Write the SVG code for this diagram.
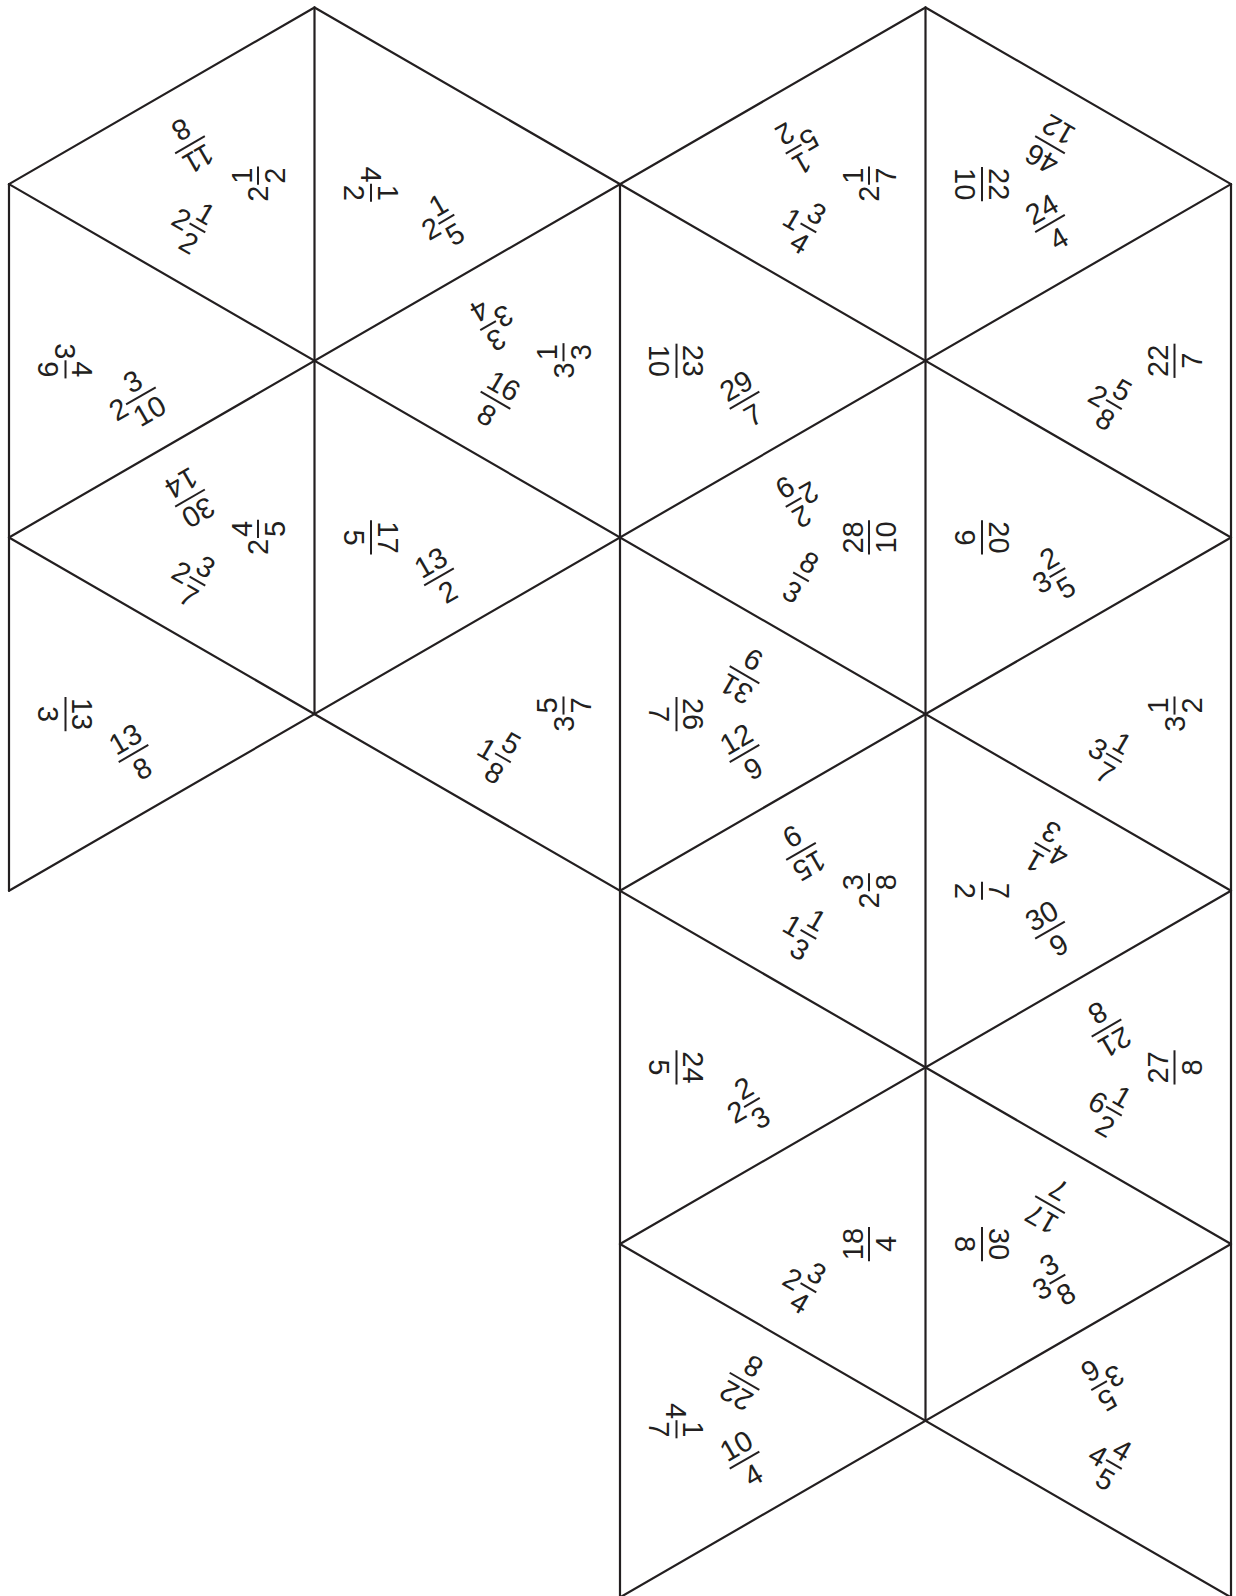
<svg xmlns="http://www.w3.org/2000/svg" width="1236" height="1596" viewBox="0 0 1236 1596">
<style>
.e{fill:none;stroke:#231f20;stroke-width:2.2;stroke-linecap:round}
.n{font-family:"Liberation Sans",Arial,Helvetica,sans-serif;font-size:29px;text-anchor:middle;fill:#231f20}
.b{stroke:#231f20;stroke-width:2}
</style>
<rect width="1236" height="1596" fill="#ffffff"/>
<g id="edges" class="e">
<line x1="9" y1="184.15" x2="9" y2="890.75"/>
<line x1="314.5" y1="7.5" x2="314.5" y2="714.1"/>
<line x1="620" y1="184.15" x2="620" y2="1597.35"/>
<line x1="925.5" y1="7.5" x2="925.5" y2="1420.7"/>
<line x1="1231" y1="184.15" x2="1231" y2="1597.35"/>
<line x1="314.5" y1="7.5" x2="1231" y2="537.45"/>
<line x1="925.5" y1="7.5" x2="1231" y2="184.15"/>
<line x1="9" y1="184.15" x2="1231" y2="890.75"/>
<line x1="9" y1="537.45" x2="1231" y2="1244.05"/>
<line x1="620" y1="1244.05" x2="1231" y2="1597.35"/>
<line x1="9" y1="184.15" x2="314.5" y2="7.5"/>
<line x1="9" y1="537.45" x2="925.5" y2="7.5"/>
<line x1="9" y1="890.75" x2="1231" y2="184.15"/>
<line x1="620" y1="890.75" x2="1231" y2="537.45"/>
<line x1="620" y1="1244.05" x2="1231" y2="890.75"/>
<line x1="620" y1="1597.35" x2="1231" y2="1244.05"/>
</g>
<g id="t1">
<g transform="translate(190 144.76) rotate(150)"><text class="n" y="-6.5">11</text><line class="b" x1="-17.12" x2="17.12"/><text class="n" y="27.3">8</text></g>
<g transform="translate(258 184.15) rotate(-90)"><text class="n" x="-9.56" y="10.4">2</text><text class="n" x="8.56" y="-6.5">1</text><line class="b" x1="-0.5" x2="17.62"/><text class="n" x="8.56" y="27.3">2</text></g>
<g transform="translate(190 223.55) rotate(30)"><text class="n" x="-9.56" y="10.4">2</text><text class="n" x="8.56" y="-6.5">1</text><line class="b" x1="-0.5" x2="17.62"/><text class="n" x="8.56" y="27.3">2</text></g>
</g>
<g id="t2">
<g transform="translate(65.5 360.8) rotate(90)"><text class="n" x="-9.56" y="10.4">3</text><text class="n" x="8.56" y="-6.5">4</text><line class="b" x1="-0.5" x2="17.62"/><text class="n" x="8.56" y="27.3">9</text></g>
<g transform="translate(133.5 400.2) rotate(-30)"><text class="n" x="-17.62" y="10.4">2</text><text class="n" x="8.56" y="-6.5">3</text><line class="b" x1="-8.56" x2="25.68"/><text class="n" x="8.56" y="27.3">10</text></g>
</g>
<g id="t3">
<g transform="translate(190 498.06) rotate(150)"><text class="n" y="-6.5">30</text><line class="b" x1="-17.12" x2="17.12"/><text class="n" y="27.3">14</text></g>
<g transform="translate(258 537.45) rotate(-90)"><text class="n" x="-9.56" y="10.4">2</text><text class="n" x="8.56" y="-6.5">4</text><line class="b" x1="-0.5" x2="17.62"/><text class="n" x="8.56" y="27.3">5</text></g>
<g transform="translate(190 576.85) rotate(30)"><text class="n" x="-9.56" y="10.4">2</text><text class="n" x="8.56" y="-6.5">3</text><line class="b" x1="-0.5" x2="17.62"/><text class="n" x="8.56" y="27.3">7</text></g>
</g>
<g id="t4">
<g transform="translate(65.5 714.1) rotate(90)"><text class="n" y="-6.5">13</text><line class="b" x1="-17.12" x2="17.12"/><text class="n" y="27.3">3</text></g>
<g transform="translate(133.5 753.5) rotate(-30)"><text class="n" y="-6.5">13</text><line class="b" x1="-17.12" x2="17.12"/><text class="n" y="27.3">8</text></g>
</g>
<g id="t5">
<g transform="translate(371 184.15) rotate(90)"><text class="n" x="-9.56" y="10.4">4</text><text class="n" x="8.56" y="-6.5">1</text><line class="b" x1="-0.5" x2="17.62"/><text class="n" x="8.56" y="27.3">2</text></g>
<g transform="translate(439 223.55) rotate(-30)"><text class="n" x="-9.56" y="10.4">2</text><text class="n" x="8.56" y="-6.5">1</text><line class="b" x1="-0.5" x2="17.62"/><text class="n" x="8.56" y="27.3">5</text></g>
</g>
<g id="t6">
<g transform="translate(495.5 321.41) rotate(150)"><text class="n" x="-9.56" y="10.4">3</text><text class="n" x="8.56" y="-6.5">3</text><line class="b" x1="-0.5" x2="17.62"/><text class="n" x="8.56" y="27.3">4</text></g>
<g transform="translate(563.5 360.8) rotate(-90)"><text class="n" x="-9.56" y="10.4">3</text><text class="n" x="8.56" y="-6.5">1</text><line class="b" x1="-0.5" x2="17.62"/><text class="n" x="8.56" y="27.3">3</text></g>
<g transform="translate(495.5 400.2) rotate(30)"><text class="n" y="-6.5">16</text><line class="b" x1="-17.12" x2="17.12"/><text class="n" y="27.3">8</text></g>
</g>
<g id="t7">
<g transform="translate(371 537.45) rotate(90)"><text class="n" y="-6.5">17</text><line class="b" x1="-17.12" x2="17.12"/><text class="n" y="27.3">5</text></g>
<g transform="translate(439 576.85) rotate(-30)"><text class="n" y="-6.5">13</text><line class="b" x1="-17.12" x2="17.12"/><text class="n" y="27.3">2</text></g>
</g>
<g id="t8">
<g transform="translate(563.5 714.1) rotate(-90)"><text class="n" x="-9.56" y="10.4">3</text><text class="n" x="8.56" y="-6.5">5</text><line class="b" x1="-0.5" x2="17.62"/><text class="n" x="8.56" y="27.3">7</text></g>
<g transform="translate(495.5 753.5) rotate(30)"><text class="n" x="-9.56" y="10.4">1</text><text class="n" x="8.56" y="-6.5">5</text><line class="b" x1="-0.5" x2="17.62"/><text class="n" x="8.56" y="27.3">8</text></g>
</g>
<g id="t9">
<g transform="translate(801 144.76) rotate(150)"><text class="n" x="-9.56" y="10.4">5</text><text class="n" x="8.56" y="-6.5">1</text><line class="b" x1="-0.5" x2="17.62"/><text class="n" x="8.56" y="27.3">2</text></g>
<g transform="translate(869 184.15) rotate(-90)"><text class="n" x="-9.56" y="10.4">2</text><text class="n" x="8.56" y="-6.5">1</text><line class="b" x1="-0.5" x2="17.62"/><text class="n" x="8.56" y="27.3">7</text></g>
<g transform="translate(801 223.55) rotate(30)"><text class="n" x="-9.56" y="10.4">1</text><text class="n" x="8.56" y="-6.5">3</text><line class="b" x1="-0.5" x2="17.62"/><text class="n" x="8.56" y="27.3">4</text></g>
</g>
<g id="t10">
<g transform="translate(676.5 360.8) rotate(90)"><text class="n" y="-6.5">23</text><line class="b" x1="-17.12" x2="17.12"/><text class="n" y="27.3">10</text></g>
<g transform="translate(744.5 400.2) rotate(-30)"><text class="n" y="-6.5">29</text><line class="b" x1="-17.12" x2="17.12"/><text class="n" y="27.3">7</text></g>
</g>
<g id="t11">
<g transform="translate(801 498.06) rotate(150)"><text class="n" x="-9.56" y="10.4">2</text><text class="n" x="8.56" y="-6.5">2</text><line class="b" x1="-0.5" x2="17.62"/><text class="n" x="8.56" y="27.3">9</text></g>
<g transform="translate(869 537.45) rotate(-90)"><text class="n" y="-6.5">28</text><line class="b" x1="-17.12" x2="17.12"/><text class="n" y="27.3">10</text></g>
<g transform="translate(801 576.85) rotate(30)"><text class="n" y="-6.5">8</text><line class="b" x1="-9.06" x2="9.06"/><text class="n" y="27.3">3</text></g>
</g>
<g id="t12">
<g transform="translate(676.5 714.1) rotate(90)"><text class="n" y="-6.5">26</text><line class="b" x1="-17.12" x2="17.12"/><text class="n" y="27.3">7</text></g>
<g transform="translate(744.5 674.71) rotate(210)"><text class="n" y="-6.5">31</text><line class="b" x1="-17.12" x2="17.12"/><text class="n" y="27.3">9</text></g>
<g transform="translate(744.5 753.5) rotate(-30)"><text class="n" y="-6.5">12</text><line class="b" x1="-17.12" x2="17.12"/><text class="n" y="27.3">9</text></g>
</g>
<g id="t13">
<g transform="translate(801 851.36) rotate(150)"><text class="n" y="-6.5">15</text><line class="b" x1="-17.12" x2="17.12"/><text class="n" y="27.3">9</text></g>
<g transform="translate(869 890.75) rotate(-90)"><text class="n" x="-9.56" y="10.4">2</text><text class="n" x="8.56" y="-6.5">3</text><line class="b" x1="-0.5" x2="17.62"/><text class="n" x="8.56" y="27.3">8</text></g>
<g transform="translate(801 930.15) rotate(30)"><text class="n" x="-9.56" y="10.4">1</text><text class="n" x="8.56" y="-6.5">1</text><line class="b" x1="-0.5" x2="17.62"/><text class="n" x="8.56" y="27.3">3</text></g>
</g>
<g id="t14">
<g transform="translate(676.5 1067.4) rotate(90)"><text class="n" y="-6.5">24</text><line class="b" x1="-17.12" x2="17.12"/><text class="n" y="27.3">5</text></g>
<g transform="translate(744.5 1106.8) rotate(-30)"><text class="n" x="-9.56" y="10.4">2</text><text class="n" x="8.56" y="-6.5">2</text><line class="b" x1="-0.5" x2="17.62"/><text class="n" x="8.56" y="27.3">3</text></g>
</g>
<g id="t15">
<g transform="translate(869 1244.05) rotate(-90)"><text class="n" y="-6.5">18</text><line class="b" x1="-17.12" x2="17.12"/><text class="n" y="27.3">4</text></g>
<g transform="translate(801 1283.45) rotate(30)"><text class="n" x="-9.56" y="10.4">2</text><text class="n" x="8.56" y="-6.5">3</text><line class="b" x1="-0.5" x2="17.62"/><text class="n" x="8.56" y="27.3">4</text></g>
</g>
<g id="t16">
<g transform="translate(676.5 1420.7) rotate(90)"><text class="n" x="-9.56" y="10.4">4</text><text class="n" x="8.56" y="-6.5">1</text><line class="b" x1="-0.5" x2="17.62"/><text class="n" x="8.56" y="27.3">7</text></g>
<g transform="translate(744.5 1381.31) rotate(210)"><text class="n" y="-6.5">22</text><line class="b" x1="-17.12" x2="17.12"/><text class="n" y="27.3">8</text></g>
<g transform="translate(744.5 1460.1) rotate(-30)"><text class="n" y="-6.5">10</text><line class="b" x1="-17.12" x2="17.12"/><text class="n" y="27.3">4</text></g>
</g>
<g id="t17">
<g transform="translate(982 184.15) rotate(90)"><text class="n" y="-6.5">22</text><line class="b" x1="-17.12" x2="17.12"/><text class="n" y="27.3">10</text></g>
<g transform="translate(1050 144.76) rotate(210)"><text class="n" y="-6.5">46</text><line class="b" x1="-17.12" x2="17.12"/><text class="n" y="27.3">12</text></g>
<g transform="translate(1050 223.55) rotate(-30)"><text class="n" y="-6.5">24</text><line class="b" x1="-17.12" x2="17.12"/><text class="n" y="27.3">4</text></g>
</g>
<g id="t18">
<g transform="translate(1174.5 360.8) rotate(-90)"><text class="n" y="-6.5">22</text><line class="b" x1="-17.12" x2="17.12"/><text class="n" y="27.3">7</text></g>
<g transform="translate(1106.5 400.2) rotate(30)"><text class="n" x="-9.56" y="10.4">2</text><text class="n" x="8.56" y="-6.5">5</text><line class="b" x1="-0.5" x2="17.62"/><text class="n" x="8.56" y="27.3">8</text></g>
</g>
<g id="t19">
<g transform="translate(982 537.45) rotate(90)"><text class="n" y="-6.5">20</text><line class="b" x1="-17.12" x2="17.12"/><text class="n" y="27.3">9</text></g>
<g transform="translate(1050 576.85) rotate(-30)"><text class="n" x="-9.56" y="10.4">3</text><text class="n" x="8.56" y="-6.5">2</text><line class="b" x1="-0.5" x2="17.62"/><text class="n" x="8.56" y="27.3">5</text></g>
</g>
<g id="t20">
<g transform="translate(1174.5 714.1) rotate(-90)"><text class="n" x="-9.56" y="10.4">3</text><text class="n" x="8.56" y="-6.5">1</text><line class="b" x1="-0.5" x2="17.62"/><text class="n" x="8.56" y="27.3">2</text></g>
<g transform="translate(1106.5 753.5) rotate(30)"><text class="n" x="-9.56" y="10.4">3</text><text class="n" x="8.56" y="-6.5">1</text><line class="b" x1="-0.5" x2="17.62"/><text class="n" x="8.56" y="27.3">7</text></g>
</g>
<g id="t21">
<g transform="translate(982 890.75) rotate(90)"><text class="n" y="-6.5">7</text><line class="b" x1="-9.06" x2="9.06"/><text class="n" y="27.3">2</text></g>
<g transform="translate(1050 851.36) rotate(210)"><text class="n" x="-9.56" y="10.4">4</text><text class="n" x="8.56" y="-6.5">1</text><line class="b" x1="-0.5" x2="17.62"/><text class="n" x="8.56" y="27.3">3</text></g>
<g transform="translate(1050 930.15) rotate(-30)"><text class="n" y="-6.5">30</text><line class="b" x1="-17.12" x2="17.12"/><text class="n" y="27.3">9</text></g>
</g>
<g id="t22">
<g transform="translate(1174.5 1067.4) rotate(-90)"><text class="n" y="-6.5">27</text><line class="b" x1="-17.12" x2="17.12"/><text class="n" y="27.3">8</text></g>
<g transform="translate(1106.5 1028.01) rotate(150)"><text class="n" y="-6.5">21</text><line class="b" x1="-17.12" x2="17.12"/><text class="n" y="27.3">8</text></g>
<g transform="translate(1106.5 1106.8) rotate(30)"><text class="n" x="-9.56" y="10.4">6</text><text class="n" x="8.56" y="-6.5">1</text><line class="b" x1="-0.5" x2="17.62"/><text class="n" x="8.56" y="27.3">2</text></g>
</g>
<g id="t23">
<g transform="translate(982 1244.05) rotate(90)"><text class="n" y="-6.5">30</text><line class="b" x1="-17.12" x2="17.12"/><text class="n" y="27.3">8</text></g>
<g transform="translate(1050 1204.66) rotate(210)"><text class="n" y="-6.5">17</text><line class="b" x1="-17.12" x2="17.12"/><text class="n" y="27.3">7</text></g>
<g transform="translate(1050 1283.45) rotate(-30)"><text class="n" x="-9.56" y="10.4">3</text><text class="n" x="8.56" y="-6.5">3</text><line class="b" x1="-0.5" x2="17.62"/><text class="n" x="8.56" y="27.3">8</text></g>
</g>
<g id="t24">
<g transform="translate(1106.5 1381.31) rotate(150)"><text class="n" x="-9.56" y="10.4">3</text><text class="n" x="8.56" y="-6.5">5</text><line class="b" x1="-0.5" x2="17.62"/><text class="n" x="8.56" y="27.3">6</text></g>
<g transform="translate(1106.5 1460.1) rotate(30)"><text class="n" x="-9.56" y="10.4">4</text><text class="n" x="8.56" y="-6.5">4</text><line class="b" x1="-0.5" x2="17.62"/><text class="n" x="8.56" y="27.3">5</text></g>
</g>
</svg>
